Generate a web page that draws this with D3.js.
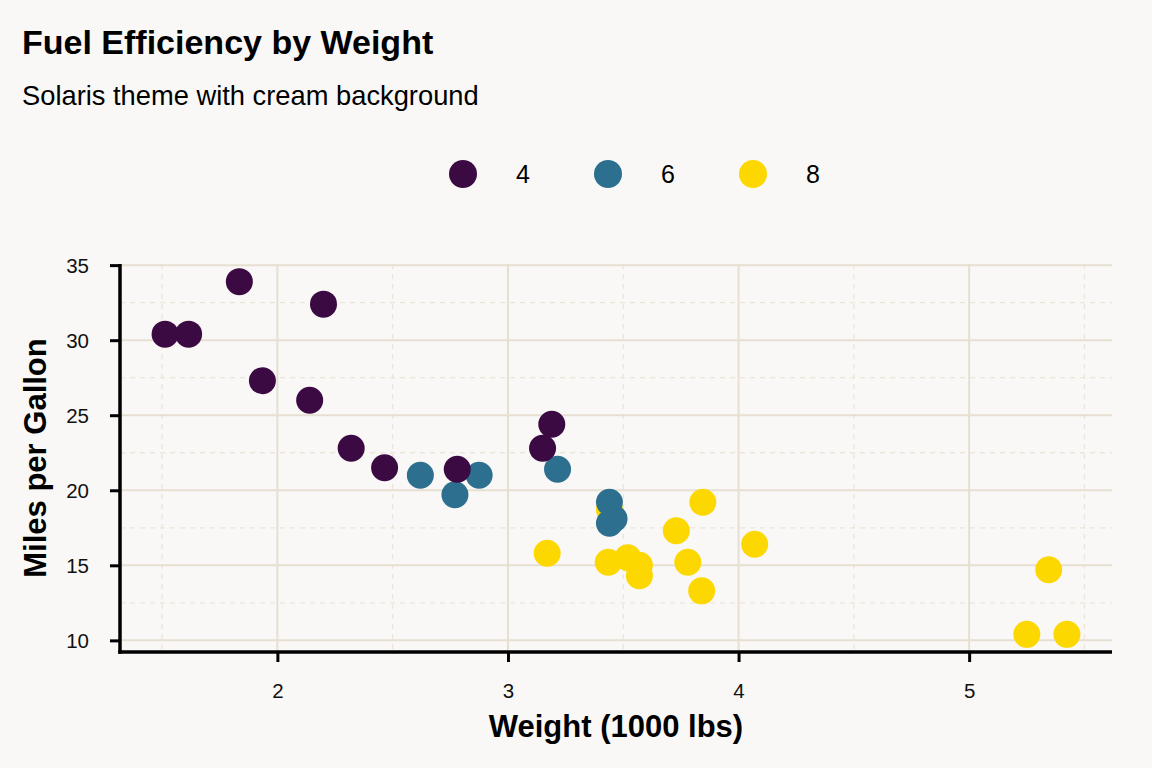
<!DOCTYPE html>
<html lang="en">
<head>
  <meta charset="UTF-8">
  <title>Fuel Efficiency by Weight</title>
  <style>
    body { margin: 0; background: #f9f8f6; }
    svg { display: block; }
    .title { font-family: "Liberation Sans", Arial, sans-serif; font-weight: bold; }
    .sans { font-family: "Liberation Sans", Arial, sans-serif; }
  </style>
  <script src="https://d3js.org/d3.v7.min.js"></script>
</head>
<body>
<div id="chart"></div>
<script>
  // mtcars: weight (1000 lbs), mpg, cylinders
  var wt  = [2.620, 2.875, 2.320, 3.215, 3.440, 3.460, 3.570, 3.190, 3.150, 3.440, 3.440, 4.070, 3.730, 3.780, 5.250, 5.424, 5.345, 2.200, 1.615, 1.835, 2.465, 3.520, 3.435, 3.840, 3.845, 1.935, 2.140, 1.513, 3.170, 2.770, 3.570, 2.780];
  var mpg = [21.0, 21.0, 22.8, 21.4, 18.7, 18.1, 14.3, 24.4, 22.8, 19.2, 17.8, 16.4, 17.3, 15.2, 10.4, 10.4, 14.7, 32.4, 30.4, 33.9, 21.5, 15.5, 15.2, 13.3, 19.2, 27.3, 26.0, 30.4, 15.8, 19.7, 15.0, 21.4];
  var cyl = [6, 6, 4, 6, 8, 6, 8, 4, 4, 6, 6, 8, 8, 8, 8, 8, 8, 4, 4, 4, 4, 8, 8, 8, 8, 4, 4, 4, 8, 6, 8, 4];

  var cylLevels = [4, 6, 8];
  var cylColors = ["#3c0a43", "#2d6f8e", "#fdd800"];
  var xTicks = [2, 3, 4, 5];
  var yTicks = [10, 15, 20, 25, 30, 35];

  var width = 1152, height = 768;
  var margin = { left: 120, right: 40, top: 264, bottom: 116 };

  var svg = d3.select("#chart").append("svg")
    .attr("width", width)
    .attr("height", height);

  svg.append("rect").attr("width", width).attr("height", height).attr("fill", "#f9f8f6");

  // ggplot-like 5% expansion
  var xExt = d3.extent(wt), yExt = d3.extent(mpg);
  var xPad = (xExt[1] - xExt[0]) * 0.05, yPad = (yExt[1] - yExt[0]) * 0.05;

  var x = d3.scaleLinear()
    .domain([xExt[0] - xPad, xExt[1] + xPad])
    .range([margin.left, width - margin.right]);
  var y = d3.scaleLinear()
    .domain([yExt[0] - yPad, yExt[1] + yPad])
    .range([height - margin.bottom, margin.top]);
  var color = d3.scaleOrdinal().domain(cylLevels).range(cylColors);

  var x0 = x.range()[0], x1 = x.range()[1];
  var yb = y.range()[0], yt = y.range()[1];

  // minor grid (dashed)
  var xMinor = [1.5, 2.5, 3.5, 4.5, 5.5];
  var yMinor = [12.5, 17.5, 22.5, 27.5, 32.5];
  var grid = svg.append("g");
  grid.selectAll(".vminor").data(xMinor).enter().append("line")
    .attr("x1", d => x(d)).attr("x2", d => x(d)).attr("y1", yt).attr("y2", yb)
    .attr("stroke", "#ebe5da").attr("stroke-width", 1.3).attr("stroke-dasharray", "5,5");
  grid.selectAll(".hminor").data(yMinor).enter().append("line")
    .attr("x1", x0).attr("x2", x1).attr("y1", d => y(d)).attr("y2", d => y(d))
    .attr("stroke", "#ebe5da").attr("stroke-width", 1.3).attr("stroke-dasharray", "5,5");
  // major grid
  grid.selectAll(".vmajor").data(xTicks).enter().append("line")
    .attr("x1", d => x(d)).attr("x2", d => x(d)).attr("y1", yt).attr("y2", yb)
    .attr("stroke", "#e6dfd2").attr("stroke-width", 2);
  grid.selectAll(".hmajor").data(yTicks).enter().append("line")
    .attr("x1", x0).attr("x2", x1).attr("y1", d => y(d)).attr("y2", d => y(d))
    .attr("stroke", "#e6dfd2").attr("stroke-width", 2);

  // points, in data order
  svg.append("g").selectAll("circle")
    .data(wt.map((w, i) => ({ wt: w, mpg: mpg[i], cyl: cyl[i] })))
    .enter().append("circle")
    .attr("cx", d => x(d.wt))
    .attr("cy", d => y(d.mpg))
    .attr("r", 13.5)
    .attr("fill", d => color(d.cyl));

  // axes
  var xAxis = svg.append("g")
    .attr("transform", "translate(0," + yb + ")")
    .call(d3.axisBottom(x).tickValues(xTicks).tickSize(10).tickPadding(22).tickFormat(d3.format("d")));
  var yAxis = svg.append("g")
    .attr("transform", "translate(" + x0 + ",0)")
    .call(d3.axisLeft(y).tickValues(yTicks).tickSize(10).tickPadding(21).tickFormat(d3.format("d")));
  [xAxis, yAxis].forEach(function (g) {
    g.select(".domain").remove();
    g.selectAll(".tick line").attr("stroke", "#000").attr("stroke-width", 3);
    g.selectAll(".tick text")
      .attr("font-family", "'Liberation Sans', Arial, sans-serif")
      .attr("font-size", 20.5)
      .attr("fill", "#111");
  });
  xAxis.selectAll(".tick text").attr("dy", "0.68em");
  yAxis.selectAll(".tick text").attr("dy", "0.35em");

  svg.append("line").attr("x1", x0).attr("x2", x0).attr("y1", yt).attr("y2", yb + 1.75)
    .attr("stroke", "#000").attr("stroke-width", 3.5);
  svg.append("line").attr("x1", x0 - 1.75).attr("x2", x1).attr("y1", yb).attr("y2", yb)
    .attr("stroke", "#000").attr("stroke-width", 3.5);

  // axis titles
  svg.append("text").attr("class", "title")
    .attr("x", (x0 + x1) / 2).attr("y", 737)
    .attr("text-anchor", "middle").attr("font-size", 31)
    .text("Weight (1000 lbs)");
  svg.append("text").attr("class", "title")
    .attr("transform", "translate(46," + (yt + yb) / 2 + ") rotate(-90)")
    .attr("text-anchor", "middle").attr("font-size", 31)
    .text("Miles per Gallon");

  // titles
  svg.append("text").attr("class", "title")
    .attr("x", 22).attr("y", 54).attr("font-size", 34)
    .text("Fuel Efficiency by Weight");
  svg.append("text").attr("class", "sans")
    .attr("x", 22).attr("y", 105).attr("font-size", 27.3)
    .text("Solaris theme with cream background");

  // legend
  var legend = svg.append("g").selectAll("g")
    .data(cylLevels).enter().append("g")
    .attr("transform", (d, i) => "translate(" + (463 + i * 145) + ",174)");
  legend.append("circle").attr("r", 14).attr("fill", d => color(d));
  legend.append("text").attr("class", "sans")
    .attr("x", 53).attr("dy", "0.35em").attr("font-size", 25)
    .text(d => d);
</script>
</body>
</html>
